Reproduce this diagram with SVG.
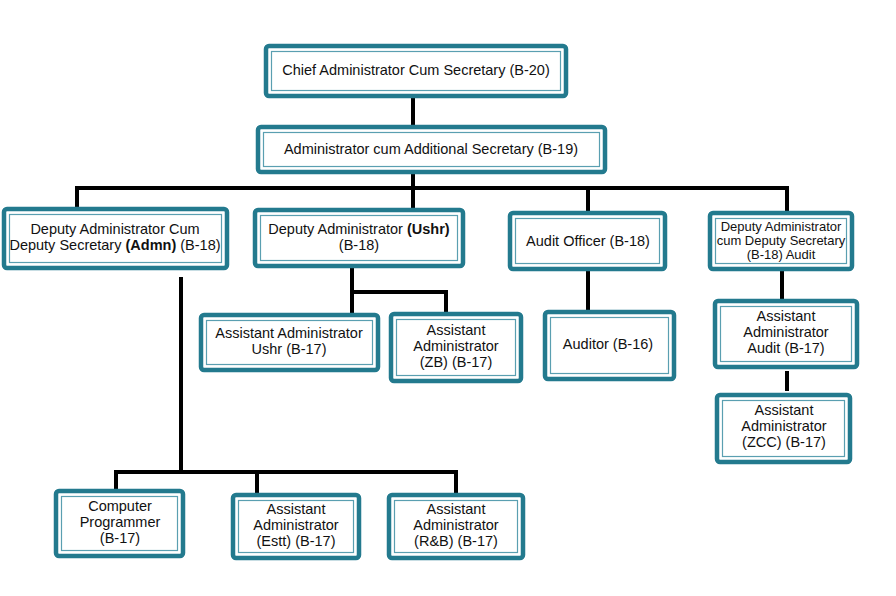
<svg xmlns="http://www.w3.org/2000/svg" width="896" height="596" viewBox="0 0 896 596">
<style>
.o{fill:#ffffff;stroke:#237a8e;stroke-width:4.5}
.i{fill:none;stroke:#5a9fb1;stroke-width:1.2}
.t{font-family:"Liberation Sans",Arial,sans-serif;font-size:14.5px;fill:#111;text-anchor:middle}
.s{font-size:13px}
.b{font-weight:bold}
.c{fill:none;stroke:#000;stroke-width:4;stroke-linecap:square}
</style>
<rect width="896" height="596" fill="#fff"/>
<g id="connectors">
<path class="c" d="M413 97V125"/>
<path class="c" d="M413 173V208M77 207V188H787V211M588 188V211"/>
<path class="c" d="M352 268V313M352 292H446V313"/>
<path class="c" d="M588 271V310"/>
<path class="c" d="M782 271V299"/>
<path class="c" d="M787 373V389"/>
<path class="c" d="M181 279V472M116 489V472H456V491M257 472V491"/>
</g>
<g id="chief">
<rect class="o" x="266" y="46" width="300" height="50" rx="3"/>
<rect class="i" x="271.5" y="51.5" width="289" height="39"/>
<text class="t" x="416" y="75">Chief Administrator Cum Secretary (B-20)</text>
</g>
<g id="admin">
<rect class="o" x="258" y="127" width="347" height="45" rx="3"/>
<rect class="i" x="263.5" y="132.5" width="336" height="34"/>
<text class="t" x="431" y="154">Administrator cum Additional Secretary (B-19)</text>
</g>
<g id="dep-admn">
<rect class="o" x="4" y="209" width="223" height="59" rx="3"/>
<rect class="i" x="9.5" y="214.5" width="212" height="48"/>
<text class="t" x="115" y="234">Deputy Administrator Cum</text>
<text class="t" x="115" y="250">Deputy Secretary <tspan class="b">(Admn)</tspan> (B-18)</text>
</g>
<g id="dep-ushr">
<rect class="o" x="255" y="210" width="208" height="56" rx="3"/>
<rect class="i" x="260.5" y="215.5" width="197" height="45"/>
<text class="t" x="359" y="234">Deputy Administrator <tspan class="b">(Ushr)</tspan></text>
<text class="t" x="359" y="250">(B-18)</text>
</g>
<g id="audit-officer">
<rect class="o" x="510" y="213" width="155" height="56" rx="3"/>
<rect class="i" x="515.5" y="218.5" width="144" height="45"/>
<text class="t" x="588" y="246">Audit Officer (B-18)</text>
</g>
<g id="dep-audit">
<rect class="o" x="710" y="213" width="142" height="56" rx="3"/>
<rect class="i" x="715.5" y="218.5" width="131" height="45"/>
<text class="t s" x="781" y="230.5">Deputy Administrator</text>
<text class="t s" x="781" y="244.5">cum Deputy Secretary</text>
<text class="t s" x="781" y="258.5">(B-18) Audit</text>
</g>
<g id="asst-ushr">
<rect class="o" x="201" y="315" width="177" height="55" rx="3"/>
<rect class="i" x="206.5" y="320.5" width="166" height="44"/>
<text class="t" x="289" y="338">Assistant Administrator</text>
<text class="t" x="289" y="354">Ushr (B-17)</text>
</g>
<g id="asst-zb">
<rect class="o" x="391" y="314" width="130" height="67" rx="3"/>
<rect class="i" x="396.5" y="319.5" width="119" height="56"/>
<text class="t" x="456" y="335">Assistant</text>
<text class="t" x="456" y="351">Administrator</text>
<text class="t" x="456" y="367">(ZB) (B-17)</text>
</g>
<g id="auditor">
<rect class="o" x="545" y="312" width="129" height="67" rx="3"/>
<rect class="i" x="550.5" y="317.5" width="118" height="56"/>
<text class="t" x="608" y="349">Auditor (B-16)</text>
</g>
<g id="asst-audit">
<rect class="o" x="715" y="301" width="142" height="66" rx="3"/>
<rect class="i" x="720.5" y="306.5" width="131" height="55"/>
<text class="t" x="786" y="321">Assistant</text>
<text class="t" x="786" y="337">Administrator</text>
<text class="t" x="786" y="353">Audit (B-17)</text>
</g>
<g id="asst-zcc">
<rect class="o" x="717" y="395" width="133" height="67" rx="3"/>
<rect class="i" x="722.5" y="400.5" width="122" height="56"/>
<text class="t" x="784" y="415">Assistant</text>
<text class="t" x="784" y="431">Administrator</text>
<text class="t" x="784" y="447">(ZCC) (B-17)</text>
</g>
<g id="programmer">
<rect class="o" x="56" y="491" width="127" height="65" rx="3"/>
<rect class="i" x="61.5" y="496.5" width="116" height="54"/>
<text class="t" x="120" y="511">Computer</text>
<text class="t" x="120" y="527">Programmer</text>
<text class="t" x="120" y="543">(B-17)</text>
</g>
<g id="asst-estt">
<rect class="o" x="233" y="495" width="126" height="63" rx="3"/>
<rect class="i" x="238.5" y="500.5" width="115" height="52"/>
<text class="t" x="296" y="514">Assistant</text>
<text class="t" x="296" y="530">Administrator</text>
<text class="t" x="296" y="546">(Estt) (B-17)</text>
</g>
<g id="asst-rb">
<rect class="o" x="389" y="495" width="134" height="63" rx="3"/>
<rect class="i" x="394.5" y="500.5" width="123" height="52"/>
<text class="t" x="456" y="514">Assistant</text>
<text class="t" x="456" y="530">Administrator</text>
<text class="t" x="456" y="546">(R&amp;B) (B-17)</text>
</g>
</svg>
